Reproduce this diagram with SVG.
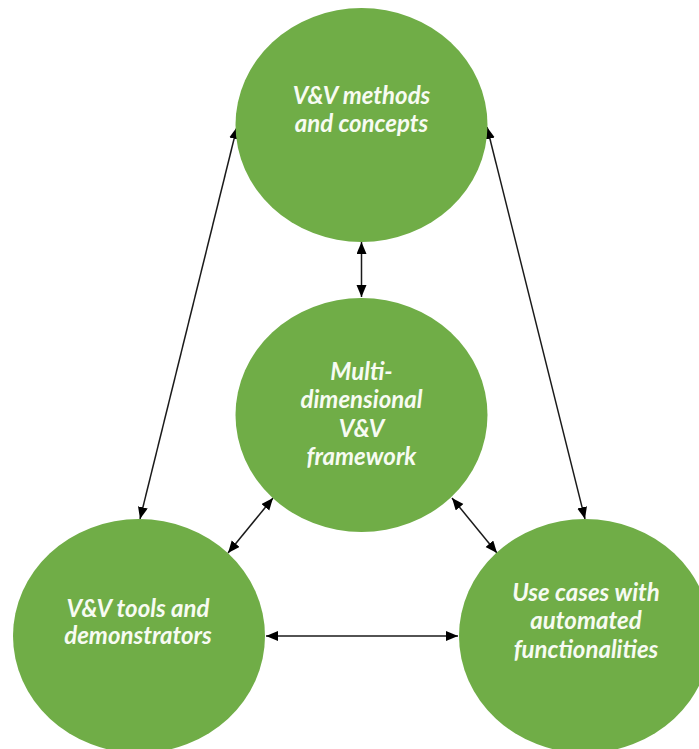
<svg xmlns="http://www.w3.org/2000/svg" width="699" height="749" viewBox="0 0 699 749">
  <style>
    .node { fill: #70AD47; }
    .label { fill: #F7FBF2; font-family: Lato, "Open Sans", "Liberation Sans", sans-serif; font-weight: bold; font-style: italic; font-size: 24px; text-anchor: middle; }
    .link { stroke: #1a1a1a; stroke-width: 1.5; fill: none; marker-start: url(#head); marker-end: url(#head); }
  </style>
  <defs>
    <marker id="head" markerUnits="userSpaceOnUse" markerWidth="13" markerHeight="11" refX="12" refY="5" orient="auto-start-reverse">
      <path d="M0,0 L12,5 L0,10 Z" fill="#000000"/>
    </marker>
  </defs>
  <rect width="699" height="749" fill="#FFFFFF"/>

  <g id="connectors">
    <line class="link" x1="361.5" y1="242" x2="361.5" y2="297"/>
    <line class="link" x1="237" y1="127" x2="140" y2="519"/>
    <line class="link" x1="487" y1="127" x2="585" y2="519"/>
    <line class="link" x1="273" y1="498" x2="228" y2="553"/>
    <line class="link" x1="452" y1="498" x2="497" y2="553"/>
    <line class="link" x1="266" y1="636" x2="458" y2="636"/>
  </g>

  <g id="methods">
    <ellipse class="node" cx="361.5" cy="125" rx="126" ry="117"/>
    <text class="label" x="361.5" y="104">V&amp;V methods</text>
    <text class="label" x="361.5" y="132">and concepts</text>
  </g>

  <g id="framework">
    <ellipse class="node" cx="361.5" cy="415" rx="126" ry="117"/>
    <text class="label" x="361.5" y="380">Multi-</text>
    <text class="label" x="361.5" y="408">dimensional</text>
    <text class="label" x="361.5" y="437">V&amp;V</text>
    <text class="label" x="361.5" y="465">framework</text>
  </g>

  <g id="tools">
    <ellipse class="node" cx="139" cy="636" rx="126" ry="117"/>
    <text class="label" x="138" y="617">V&amp;V tools and</text>
    <text class="label" x="138" y="644">demonstrators</text>
  </g>

  <g id="usecases">
    <ellipse class="node" cx="585" cy="636" rx="126" ry="117"/>
    <text class="label" x="586" y="601">Use cases with</text>
    <text class="label" x="586" y="629">automated</text>
    <text class="label" x="586" y="658">functionalities</text>
  </g>
</svg>
